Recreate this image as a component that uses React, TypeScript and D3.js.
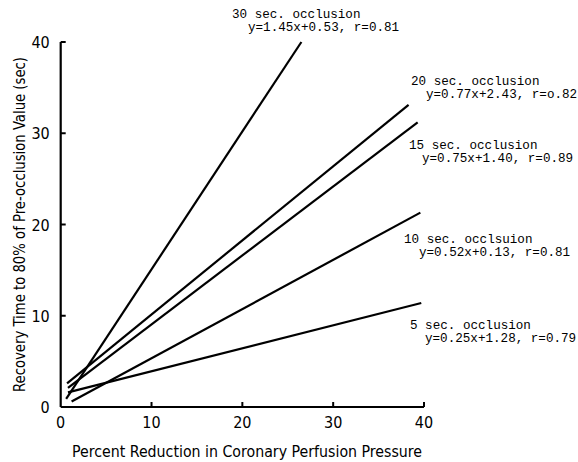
import React from 'react';
import * as d3 from 'd3';

// regression lines, endpoints
const seriesNames = ['30 sec', '20 sec', '15 sec', '10 sec', '5 sec'];
const xStart = [0.6, 0.7, 0.8, 1.2, 0.8];
const yStart = [0.9, 2.6, 2.1, 0.6, 1.6];
const xEnd = [26.5, 38.3, 39.3, 39.6, 39.7];
const yEnd = [40, 33.1, 31.2, 21.3, 11.4];

const labelTitles = ['30 sec. occlusion', '20 sec. occlusion', '15 sec. occlusion', '10 sec. occlsuion', '5 sec. occlusion'];
const labelEquations = ['y=1.45x+0.53, r=0.81', 'y=0.77x+2.43, r=o.82', 'y=0.75x+1.40, r=0.89', 'y=0.52x+0.13, r=0.81', 'y=0.25x+1.28, r=0.79'];

const xTicks = [0, 10, 20, 30, 40];
const yTicks = [0, 10, 20, 30, 40];

const W = 578;
const H = 462;

// where each annotation sits (px)
const labelPos = [
  { x: 232, y: 18, x2: 248, y2: 31 },
  { x: 411, y: 85, x2: 426, y2: 98 },
  { x: 409, y: 149, x2: 422, y2: 162 },
  { x: 404, y: 243, x2: 419, y2: 256 },
  { x: 410, y: 329, x2: 425, y2: 342 },
];

const tickFont = '"Liberation Sans Narrow", "DejaVu Sans Condensed", "Open Sans", sans-serif';
const monoFont = '"Liberation Mono", "DejaVu Sans Mono", monospace';

export default function App() {
  const x = d3.scaleLinear().domain([0, 40]).range([60.7, 424]);
  const y = d3.scaleLinear().domain([0, 40]).range([407, 42]);
  const line = d3.line<[number, number]>().x(d => x(d[0])).y(d => y(d[1]));

  return (
    <svg width={W} height={H} style={{ position: 'absolute', left: 0, top: 0, background: '#fff' }}>
      {/* axes */}
      <line x1={x(0)} x2={x(40)} y1={y(0)} y2={y(0)} stroke="#000" strokeWidth={2.2} />
      <line x1={x(0)} x2={x(0)} y1={y(0)} y2={y(40)} stroke="#000" strokeWidth={2.2} />
      {yTicks.filter(t => t > 0).map(t => (
        <line key={'yt' + t} x1={x(0)} x2={x(0) + 5} y1={y(t)} y2={y(t)} stroke="#000" strokeWidth={2} />
      ))}
      {xTicks.filter(t => t > 0).map(t => (
        <line key={'xt' + t} x1={x(t)} x2={x(t)} y1={y(0)} y2={y(0) - 5} stroke="#000" strokeWidth={2} />
      ))}
      {yTicks.map(t => (
        <text key={'yl' + t} x={x(0) - 11} y={y(t) + 6} textAnchor="end" fontFamily={tickFont} fontSize={16}>
          {t}
        </text>
      ))}
      {xTicks.map(t => (
        <text key={'xl' + t} x={x(t)} y={y(0) + 21} textAnchor="middle" fontFamily={tickFont} fontSize={16}>
          {t}
        </text>
      ))}

      {/* axis titles */}
      <text x={72} y={457} fontFamily={tickFont} fontSize={15} textLength={350} lengthAdjust="spacingAndGlyphs">
        Percent Reduction in Coronary Perfusion Pressure
      </text>
      <text
        transform={`translate(25, 392) rotate(-90)`}
        fontFamily={tickFont}
        fontSize={15}
        textLength={335}
        lengthAdjust="spacingAndGlyphs"
      >
        Recovery Time to 80% of Pre-occlusion Value (sec)
      </text>

      {/* regression lines */}
      {seriesNames.map((s, i) => (
        <path
          key={s}
          d={line([[xStart[i], yStart[i]], [xEnd[i], yEnd[i]]]) || ''}
          stroke="#000"
          strokeWidth={2.2}
          fill="none"
        />
      ))}

      {/* annotations */}
      {labelTitles.map((t, i) => (
        <g key={t} fontFamily={monoFont} fontSize={12.6}>
          <text x={labelPos[i].x} y={labelPos[i].y}>{t}</text>
          <text x={labelPos[i].x2} y={labelPos[i].y2}>{labelEquations[i]}</text>
        </g>
      ))}
    </svg>
  );
}
